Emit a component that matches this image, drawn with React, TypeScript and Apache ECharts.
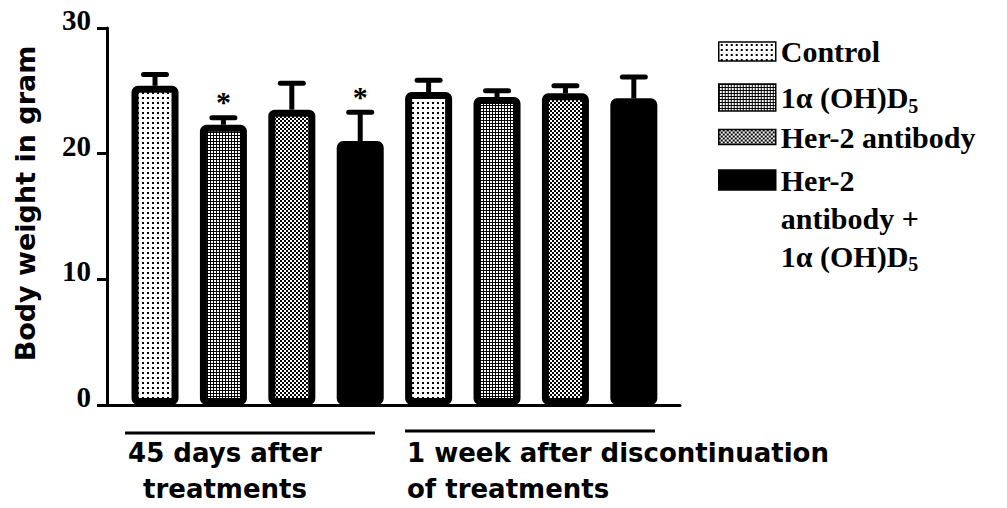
import React, { useEffect, useRef } from 'react';
import * as echarts from 'echarts';

// ---- data ----
const groups = ['45 days after\ntreatments', '1 week after discontinuation\nof treatments'];
const treatments = ['Control', '1α (OH)D5', 'Her-2 antibody', 'Her-2 antibody + 1α (OH)D5'];
const meanDay45 = [25.4, 22.3, 23.5, 21.0];
const meanWeek1 = [24.9, 24.5, 24.8, 24.4];
const errDay45 = [0.9, 0.55, 2.1, 2.3];
const errWeek1 = [0.95, 0.5, 0.6, 1.7];
const sigDay45 = ['', '*', '', '*'];
const sigWeek1 = ['', '', '', ''];
const yTicks = [0, 10, 20, 30];
const yTitle = 'Body weight in gram';

const means = [meanDay45, meanWeek1];
const errs = [errDay45, errWeek1];
const sigs = [sigDay45, sigWeek1];

function tile(kind: string): any {
  const c = document.createElement('canvas');
  const size = kind === 'dots' ? 5 : kind === 'grid' ? 3 : 4;
  c.width = size;
  c.height = size;
  const ctx = c.getContext('2d')!;
  ctx.fillStyle = '#fff';
  ctx.fillRect(0, 0, size, size);
  ctx.fillStyle = '#000';
  if (kind === 'dots') {
    ctx.fillRect(2, 2, 2, 2);
  } else if (kind === 'grid') {
    ctx.fillRect(0, 0, 3, 1);
    ctx.fillRect(0, 0, 1, 3);
  } else {
    ctx.fillRect(0, 0, 2, 2);
    ctx.fillRect(2, 2, 2, 2);
  }
  return { image: c.toDataURL(), repeat: 'repeat', imageWidth: size, imageHeight: size };
}

const serif = 'Liberation Serif';
const sans = 'DejaVu Sans';

export default function App() {
  const ref = useRef<HTMLDivElement>(null);
  useEffect(() => {
    const chart = echarts.init(ref.current!, null, { renderer: 'svg' });
    const fills = [tile('dots'), tile('grid'), tile('checker'), '#000'];

    const barSeries = treatments.map((name, t) => ({
      type: 'bar',
      name,
      data: groups.map((_, g) => [g * treatments.length + t, means[g][t]]),
      barWidth: 47,
      barGap: '-100%',
      itemStyle: { color: fills[t], borderColor: '#000', borderWidth: 7, borderRadius: 3 },
      emphasis: { disabled: true },
      silent: true,
      z: 2,
    }));

    const errData: number[][] = [];
    const sigFlat: string[] = [];
    groups.forEach((_, g) =>
      treatments.forEach((_, t) => {
        errData.push([g * treatments.length + t, means[g][t], errs[g][t]]);
        sigFlat.push(sigs[g][t]);
      })
    );

    const errSeries = {
      type: 'custom',
      name: 'err',
      silent: true,
      z: 5,
      encode: { x: 0, y: 1 },
      data: errData,
      renderItem: (params: any, api: any) => {
        const x = api.value(0);
        const v = api.value(1);
        const e = api.value(2);
        const p = api.coord([x, v]);
        const c = api.coord([x, v + e]);
        const children: any[] = [
          { type: 'line', shape: { x1: p[0], y1: p[1], x2: p[0], y2: c[1] }, style: { stroke: '#000', lineWidth: 5 } },
          { type: 'line', shape: { x1: c[0] - 11.5, y1: c[1], x2: c[0] + 11.5, y2: c[1] }, style: { stroke: '#000', lineWidth: 5, lineCap: 'round' } },
        ];
        const s = sigFlat[params.dataIndex];
        if (s) {
          children.push({
            type: 'text',
            x: c[0],
            y: c[1] - 16,
            style: {
              text: s,
              fontFamily: serif,
              fontWeight: 'bold',
              fontSize: 30,
              fill: '#000',
              align: 'center',
              textAlign: 'center',
              verticalAlign: 'middle',
              textVerticalAlign: 'middle',
            },
          });
        }
        return { type: 'group', children };
      },
    };

    const n = (lh: number) => ({ fontFamily: serif, fontWeight: 'bold', fontSize: 30, lineHeight: lh, color: '#000' });
    const s = (lh: number) => ({ fontFamily: serif, fontWeight: 'bold', fontSize: 20, lineHeight: lh - 16, padding: [16, 0, 0, 0], color: '#000' });
    const legendLabels = [
      '{n|Control}',
      '{n|1α (OH)D}{s|5}',
      '{n|Her-2 antibody}',
      '{n|Her-2}\n{n|antibody +}\n{n|1α (OH)D}{s|5}',
    ];
    const legendTops = [31.5, 77.5, 117, 85];
    const legendHeights = [19, 27, 15, 20];
    const legendLH = [40, 40, 40, 38];
    const legends = treatments.map((name, i) => ({
      orient: 'vertical',
      left: 718,
      top: legendTops[i],
      padding: 0,
      itemWidth: 57,
      itemHeight: legendHeights[i],
      icon: 'rect',
      selectedMode: false,
      data: [name],
      itemStyle: { borderColor: '#000', borderWidth: 1.5 },
      formatter: () => legendLabels[i],
      textStyle: {
        color: '#000',
        backgroundColor: 'rgba(255,255,255,0)',
        padding: i === 3 ? [76, 0, 0, 0] : 0,
        rich: { n: n(legendLH[i]), s: s(legendLH[i]) },
      },
    }));

    chart.setOption({
      animation: false,
      backgroundColor: '#fff',
      grid: { left: 107, right: 327, top: 28, bottom: 103, containLabel: false },
      xAxis: {
        type: 'value',
        min: -0.702,
        max: 7.675,
        axisLine: { show: true, onZero: false, lineStyle: { color: '#000', width: 3 } },
        axisTick: { show: false },
        axisLabel: { show: false },
        splitLine: { show: false },
      },
      yAxis: {
        type: 'value',
        min: yTicks[0],
        max: yTicks[yTicks.length - 1],
        interval: yTicks[1] - yTicks[0],
        name: yTitle,
        nameLocation: 'middle',
        nameRotate: 90,
        nameGap: 68,
        nameTextStyle: { fontFamily: sans, fontWeight: 'bold', fontSize: 27, color: '#000', padding: [0, 0, 0, 26] },
        axisLine: { show: true, onZero: false, lineStyle: { color: '#000', width: 3 } },
        axisTick: { show: true, inside: false, length: 10, lineStyle: { color: '#000', width: 3 } },
        axisLabel: {
          margin: 16,
          formatter: '{t|{value}}',
          rich: { t: { fontFamily: serif, fontWeight: 'bold', fontSize: 29, color: '#000', padding: [0, 0, 16, 0] } },
        },
        splitLine: { show: false },
      },
      legend: legends,
      graphic: [
        { type: 'line', shape: { x1: 125, y1: 433, x2: 375, y2: 433 }, style: { stroke: '#000', lineWidth: 3 } },
        { type: 'line', shape: { x1: 405, y1: 431, x2: 655, y2: 431 }, style: { stroke: '#000', lineWidth: 3 } },
        {
          type: 'text',
          x: 225,
          y: 434.5,
          style: {
            text: groups[0],
            fontFamily: sans,
            fontWeight: 'bold',
            fontSize: 26,
            lineHeight: 36,
            fill: '#000',
            align: 'center',
            textAlign: 'center',
            verticalAlign: 'top',
            textVerticalAlign: 'top',
          },
        },
        {
          type: 'text',
          x: 407,
          y: 434.5,
          style: {
            text: groups[1],
            fontFamily: sans,
            fontWeight: 'bold',
            fontSize: 26,
            lineHeight: 36,
            fill: '#000',
            align: 'left',
            textAlign: 'left',
            verticalAlign: 'top',
            textVerticalAlign: 'top',
          },
        },
      ],
      series: [...barSeries, errSeries],
    });
    return () => chart.dispose();
  }, []);
  return <div ref={ref} style={{ position: 'fixed', left: 0, top: 0, width: 1007, height: 508 }} />;
}
